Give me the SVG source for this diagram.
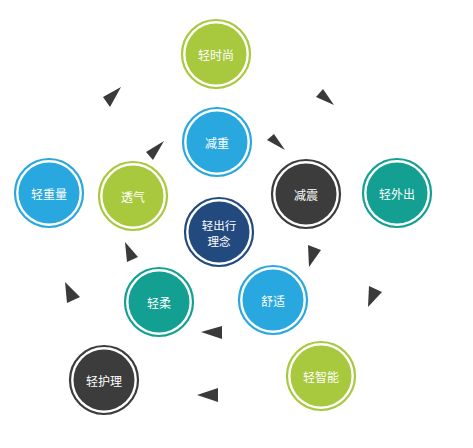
<svg xmlns="http://www.w3.org/2000/svg" width="473" height="448" viewBox="0 0 473 448">
<style>
.ring{fill:none;stroke-width:2.2}
.t{font-family:"Noto Sans CJK SC","Liberation Sans",sans-serif;font-size:12px;fill:#fff;text-anchor:middle;dominant-baseline:central}
.c{font-size:11.5px}
.g .ring{stroke:#a8c83e}.g .in{fill:#a8c83e}
.b .ring{stroke:#29a7df}.b .in{fill:#29a7df}
.n .ring{stroke:#234a7f}.n .in{fill:#234a7f}
.d .ring{stroke:#3c3c3c}.d .in{fill:#3c3c3c}
.e .ring{stroke:#13a092}.e .in{fill:#13a092}
.arr{fill:#3a3a3a}
</style>
<rect width="473" height="448" fill="#fff"/>
<g id="connectors">
<polygon class="arr" points="121,87 103,97 110,107"/>
<polygon class="arr" points="164,141 146,152 153,160"/>
<polygon class="arr" points="334,105 316,97 323,89"/>
<polygon class="arr" points="285,150 267,140 274,134"/>
<polygon class="arr" points="309,267 321,250 308,245"/>
<polygon class="arr" points="368,307 382,292 369,286"/>
<polygon class="arr" points="125,242 138,257 127,262"/>
<polygon class="arr" points="65,282 80,297 67,303"/>
<polygon class="arr" points="201,332 222,326 222,339"/>
<polygon class="arr" points="197,395 218,388 218,402"/>
</g>
<g id="n-shishang" class="g"><circle class="ring" cx="216" cy="54" r="34"/><circle class="in" cx="216" cy="54" r="30.5"/><text class="t" x="216" y="54">轻时尚</text></g>
<g id="n-jianzhong" class="b"><circle class="ring" cx="217" cy="142" r="34"/><circle class="in" cx="217" cy="142" r="30.5"/><text class="t" x="217" y="142">减重</text></g>
<g id="n-zhongliang" class="b"><circle class="ring" cx="49" cy="193" r="34"/><circle class="in" cx="49" cy="193" r="30.5"/><text class="t" x="49" y="193">轻重量</text></g>
<g id="n-touqi" class="g"><circle class="ring" cx="133" cy="196" r="34"/><circle class="in" cx="133" cy="196" r="30.5"/><text class="t" x="133" y="196">透气</text></g>
<g id="n-jianzhen" class="d"><circle class="ring" cx="306" cy="194" r="34"/><circle class="in" cx="306" cy="194" r="30.5"/><text class="t" x="306" y="194">减震</text></g>
<g id="n-waichu" class="e"><circle class="ring" cx="397" cy="193" r="34"/><circle class="in" cx="397" cy="193" r="30.5"/><text class="t" x="397" y="193">轻外出</text></g>
<g id="n-center" class="n"><circle class="ring" cx="219" cy="232" r="34"/><circle class="in" cx="219" cy="232" r="30.5"/><text class="t c" x="219" y="224.5">轻出行</text><text class="t c" x="219" y="241">理念</text></g>
<g id="n-qingrou" class="e"><circle class="ring" cx="159" cy="302" r="34"/><circle class="in" cx="159" cy="302" r="30.5"/><text class="t" x="159" y="302">轻柔</text></g>
<g id="n-shushi" class="b"><circle class="ring" cx="273" cy="300" r="34"/><circle class="in" cx="273" cy="300" r="30.5"/><text class="t" x="273" y="300">舒适</text></g>
<g id="n-huli" class="d"><circle class="ring" cx="104" cy="380" r="34"/><circle class="in" cx="104" cy="380" r="30.5"/><text class="t" x="104" y="380">轻护理</text></g>
<g id="n-zhineng" class="g"><circle class="ring" cx="321" cy="376" r="34"/><circle class="in" cx="321" cy="376" r="30.5"/><text class="t" x="321" y="376">轻智能</text></g>
</svg>
